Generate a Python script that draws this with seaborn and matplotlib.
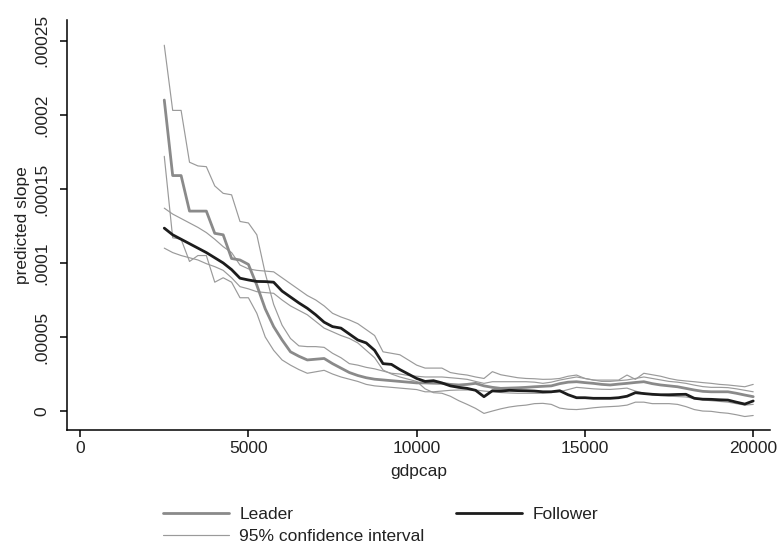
import numpy as np
import pandas as pd
import matplotlib
matplotlib.use("Agg")
import matplotlib.pyplot as plt
import seaborn as sns

# gdp per capita grid (every 250 from 2500 to 20000)
gdpcap = list(range(2500, 20001, 250))

# predicted slopes, in units of 1e-5
leader = [21.0, 15.9, 15.9, 13.5, 13.5, 13.5, 12.0, 11.9, 10.3, 10.2,
          9.9, 8.5, 6.9, 5.7, 4.8, 4.0, 3.7, 3.45, 3.5, 3.55,
          3.2, 2.9, 2.6, 2.4, 2.25, 2.15, 2.1, 2.05, 2.0, 1.95,
          1.9, 1.9, 1.88, 1.87, 1.8, 1.76, 1.8, 1.87, 1.7, 1.6,
          1.53, 1.55, 1.57, 1.6, 1.64, 1.67, 1.7, 1.85, 1.95, 1.98,
          1.92, 1.87, 1.8, 1.76, 1.82, 1.87, 1.93, 1.98, 1.85, 1.76,
          1.7, 1.64, 1.53, 1.42, 1.33, 1.3, 1.3, 1.3, 1.2, 1.08, 0.97]
leader_hi = [24.7, 20.3, 20.3, 16.8, 16.55, 16.5, 15.2, 14.7, 14.6, 12.8,
             12.7, 11.9, 9.3, 7.2, 5.8, 4.9, 4.4, 4.35, 4.35, 4.3,
             3.9, 3.6, 3.2, 3.1, 2.95, 2.85, 2.7, 2.55, 2.5, 2.4,
             2.35, 2.3, 2.3, 2.3, 2.25, 2.2, 2.14, 2.0, 1.87, 1.98,
             1.98, 1.98, 1.98, 1.98, 1.95, 1.87, 1.95, 2.09, 2.2, 2.3,
             2.2, 2.1, 2.0, 2.0, 2.05, 2.1, 2.2, 2.3, 2.2, 2.1,
             2.0, 1.95, 1.87, 1.75, 1.65, 1.6, 1.6, 1.58, 1.5, 1.4, 1.3]
leader_lo = [17.2, 11.7, 11.6, 10.1, 10.5, 10.5, 8.7, 9.0, 8.7, 7.65,
             7.65, 6.6, 5.0, 4.1, 3.45, 3.1, 2.8, 2.55, 2.65, 2.75,
             2.5, 2.3, 2.15, 2.0, 1.8, 1.7, 1.65, 1.6, 1.55, 1.5,
             1.45, 1.3, 1.3, 1.35, 1.4, 1.42, 1.42, 1.42, 1.35, 1.3,
             1.25, 1.22, 1.2, 1.2, 1.2, 1.2, 1.25, 1.3, 1.45, 1.6,
             1.55, 1.5, 1.47, 1.46, 1.5, 1.55, 1.35, 1.2, 1.1, 1.05,
             1.0, 0.98, 0.95, 0.85, 0.75, 0.7, 0.65, 0.6, 0.5, 0.4, 0.45]
follower = [12.35, 11.9, 11.6, 11.3, 11.0, 10.7, 10.35, 10.0, 9.55, 8.97,
            8.85, 8.75, 8.74, 8.7, 8.1, 7.7, 7.3, 6.94, 6.5, 6.0,
            5.7, 5.6, 5.2, 4.8, 4.6, 4.1, 3.2, 3.15, 2.8, 2.5,
            2.2, 2.0, 2.05, 1.9, 1.7, 1.6, 1.53, 1.4, 0.97, 1.37,
            1.35, 1.4, 1.38, 1.37, 1.35, 1.3, 1.3, 1.37, 1.1, 0.9,
            0.9, 0.86, 0.86, 0.86, 0.9, 1.0, 1.24, 1.18, 1.13, 1.1,
            1.1, 1.12, 1.13, 0.86, 0.8, 0.79, 0.76, 0.74, 0.6, 0.47, 0.68]
follower_hi = [13.7, 13.3, 13.0, 12.7, 12.4, 12.05, 11.6, 11.1, 10.7, 9.86,
               9.6, 9.5, 9.45, 9.4, 9.0, 8.6, 8.2, 7.8, 7.5, 7.1,
               6.6, 6.35, 6.15, 5.9, 5.5, 5.1, 4.0, 3.9, 3.8, 3.45,
               3.1, 2.9, 2.9, 2.9, 2.6, 2.5, 2.43, 2.3, 2.2, 2.66,
               2.45, 2.35, 2.25, 2.2, 2.18, 2.14, 2.15, 2.2, 2.35, 2.43,
               2.2, 2.09, 2.09, 2.09, 2.09, 2.43, 2.14, 2.55, 2.45, 2.35,
               2.2, 2.09, 2.03, 1.98, 1.92, 1.87, 1.8, 1.76, 1.7, 1.64, 1.8]
follower_lo = [11.0, 10.7, 10.5, 10.35, 10.2, 9.95, 9.75, 9.5, 9.0, 8.4,
               8.25, 8.06, 8.0, 7.95, 7.5, 7.1, 6.8, 6.5, 6.05, 5.6,
               5.35, 5.1, 4.9, 4.6, 4.1, 3.6, 2.77, 2.5, 2.3, 2.15,
               2.0, 1.5, 1.24, 1.2, 1.0, 0.7, 0.45, 0.18, -0.16, 0.0,
               0.15, 0.27, 0.35, 0.4, 0.5, 0.52, 0.45, 0.2, 0.12, 0.1,
               0.15, 0.22, 0.27, 0.3, 0.33, 0.4, 0.6, 0.6, 0.5, 0.5,
               0.5, 0.45, 0.3, 0.1, 0.0, -0.02, -0.1, -0.15, -0.25, -0.37, -0.3]

ytick_vals = [0, 5, 10, 15, 20, 25]
ytick_labels = ["0", ".00005", ".0001", ".00015", ".0002", ".00025"]
xtick_vals = [0, 5000, 10000, 15000, 20000]

sns.set_style("white")
plt.rcParams["font.family"] = ["Liberation Sans", "DejaVu Sans"]
fs = 12.5
txt = "#222222"

fig = plt.figure(figsize=(7.82, 5.51), dpi=100)
ax = fig.add_axes([0.0857, 0.2196, 0.899, 0.744])

ci_color = "#9a9a9a"
ci_lists = [leader_hi, leader_lo, follower_hi, follower_lo]
for k, vals in enumerate(ci_lists):
    sns.lineplot(x=gdpcap, y=vals, ax=ax, color=ci_color, linewidth=0.85,
                 label="95% confidence interval" if k == 0 else None)
sns.lineplot(x=gdpcap, y=leader, ax=ax, color="#8a8a8a", linewidth=2.0, label="Leader")
sns.lineplot(x=gdpcap, y=follower, ax=ax, color="#1c1c1c", linewidth=2.0, label="Follower")

ax.set_xlim(-390, 20500)
ax.set_ylim(-1.28, 26.4)
ax.set_xticks(xtick_vals)
ax.set_xticklabels([str(v) for v in xtick_vals])
ax.set_yticks(ytick_vals)
ax.set_yticklabels(ytick_labels, rotation=90, va="center")

for side in ["top", "right"]:
    ax.spines[side].set_visible(False)
for side in ["left", "bottom"]:
    ax.spines[side].set_color("black")
    ax.spines[side].set_linewidth(1.1)
ax.tick_params(axis="both", direction="out", length=5, width=1.1, color="black",
               labelsize=fs, labelcolor=txt, left=True, bottom=True)
ax.tick_params(axis="y", pad=7.5)
ax.tick_params(axis="x", pad=3)

ax.set_xlabel("gdpcap", fontsize=fs, color=txt, labelpad=6)
ax.set_ylabel("predicted slope", fontsize=fs, color=txt)
ax.yaxis.set_label_coords(-0.053, 0.5)

# legend under the plot, Stata style
handles, labels = ax.get_legend_handles_labels()
order = [labels.index("Leader"), labels.index("95% confidence interval"), labels.index("Follower")]
ax.get_legend().remove()
fig.legend([handles[i] for i in order], [labels[i] for i in order],
           loc="center", bbox_to_anchor=(0.4866, 0.046), ncol=2, frameon=False,
           fontsize=fs, handlelength=3.8, columnspacing=1.8, labelspacing=0.42,
           handletextpad=0.6, labelcolor=txt)

fig.savefig("out.png", dpi=100)
